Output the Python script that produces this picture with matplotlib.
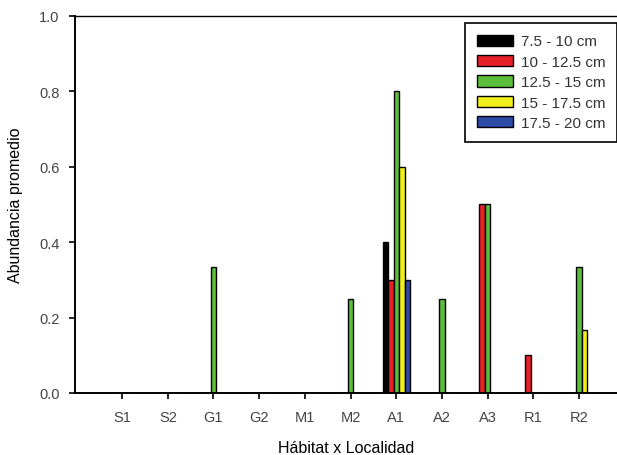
import numpy as np
from matplotlib import pyplot as plt

plt.rcParams['font.family'] = ['Liberation Sans', 'DejaVu Sans']

categories = ["S1", "S2", "G1", "G2", "M1", "M2", "A1", "A2", "A3", "R1", "R2"]
series_labels = ["7.5 - 10 cm", "10 - 12.5 cm", "12.5 - 15 cm", "15 - 17.5 cm", "17.5 - 20 cm"]
series_colors = ["#000000", "#e8202a", "#5cbf3c", "#f2ee1c", "#2b4aa6"]

s_7_10 = [0, 0, 0, 0, 0, 0, 0.4, 0, 0, 0, 0]
s_10_12 = [0, 0, 0, 0, 0, 0, 0.3, 0, 0.5, 0.1, 0]
s_12_15 = [0, 0, 0.333, 0, 0, 0.25, 0.8, 0.25, 0.5, 0, 0.333]
s_15_17 = [0, 0, 0, 0, 0, 0, 0.6, 0, 0, 0, 0.167]
s_17_20 = [0, 0, 0, 0, 0, 0, 0.3, 0, 0, 0, 0]
series = [s_7_10, s_10_12, s_12_15, s_15_17, s_17_20]

fig = plt.figure(figsize=(6.17, 4.56), dpi=100)
ax = fig.add_axes([0.1216, 0.136, 0.8784, 0.827])

x = np.arange(len(categories))
width = 0.12
for i, (vals, lab, col) in enumerate(zip(series, series_labels, series_colors)):
    ax.bar(x + (i - 2) * width, vals, width, color=col, edgecolor="black",
           linewidth=1.0, label=lab)

ax.set_xlim(-1.03, 10.83)
ax.set_ylim(0, 1.0)
ax.set_yticks(np.arange(0, 1.01, 0.2))
ax.set_yticklabels([f"{v:.1f}" for v in np.arange(0, 1.01, 0.2)])
ax.set_xticks(x)
ax.set_xticklabels(categories)
ax.spines["right"].set_visible(False)
ax.spines["top"].set_linewidth(1.0)
ax.spines["left"].set_linewidth(1.4)
ax.spines["bottom"].set_linewidth(1.4)
ax.tick_params(direction="out", length=4, width=1.2, labelsize=10.5, labelcolor="#444444")
ax.tick_params(axis="x", pad=8)
ax.tick_params(axis="y", pad=7)
ax.set_xlabel("Hábitat x Localidad", fontsize=11.5, labelpad=12)
ax.set_ylabel("Abundancia promedio", fontsize=11.5, labelpad=12)

leg = fig.legend(loc="upper right", bbox_to_anchor=(1.0, 1 - 24 / 456), fontsize=11,
                 frameon=True, fancybox=False, edgecolor="black", framealpha=1,
                 handlelength=2.4, handleheight=0.75, labelspacing=0.42,
                 borderpad=0.75, handletextpad=0.5, borderaxespad=0)
leg.get_frame().set_linewidth(1.2)
for t in leg.get_texts():
    t.set_color("#333333")

fig.savefig("out.png", dpi=100)
